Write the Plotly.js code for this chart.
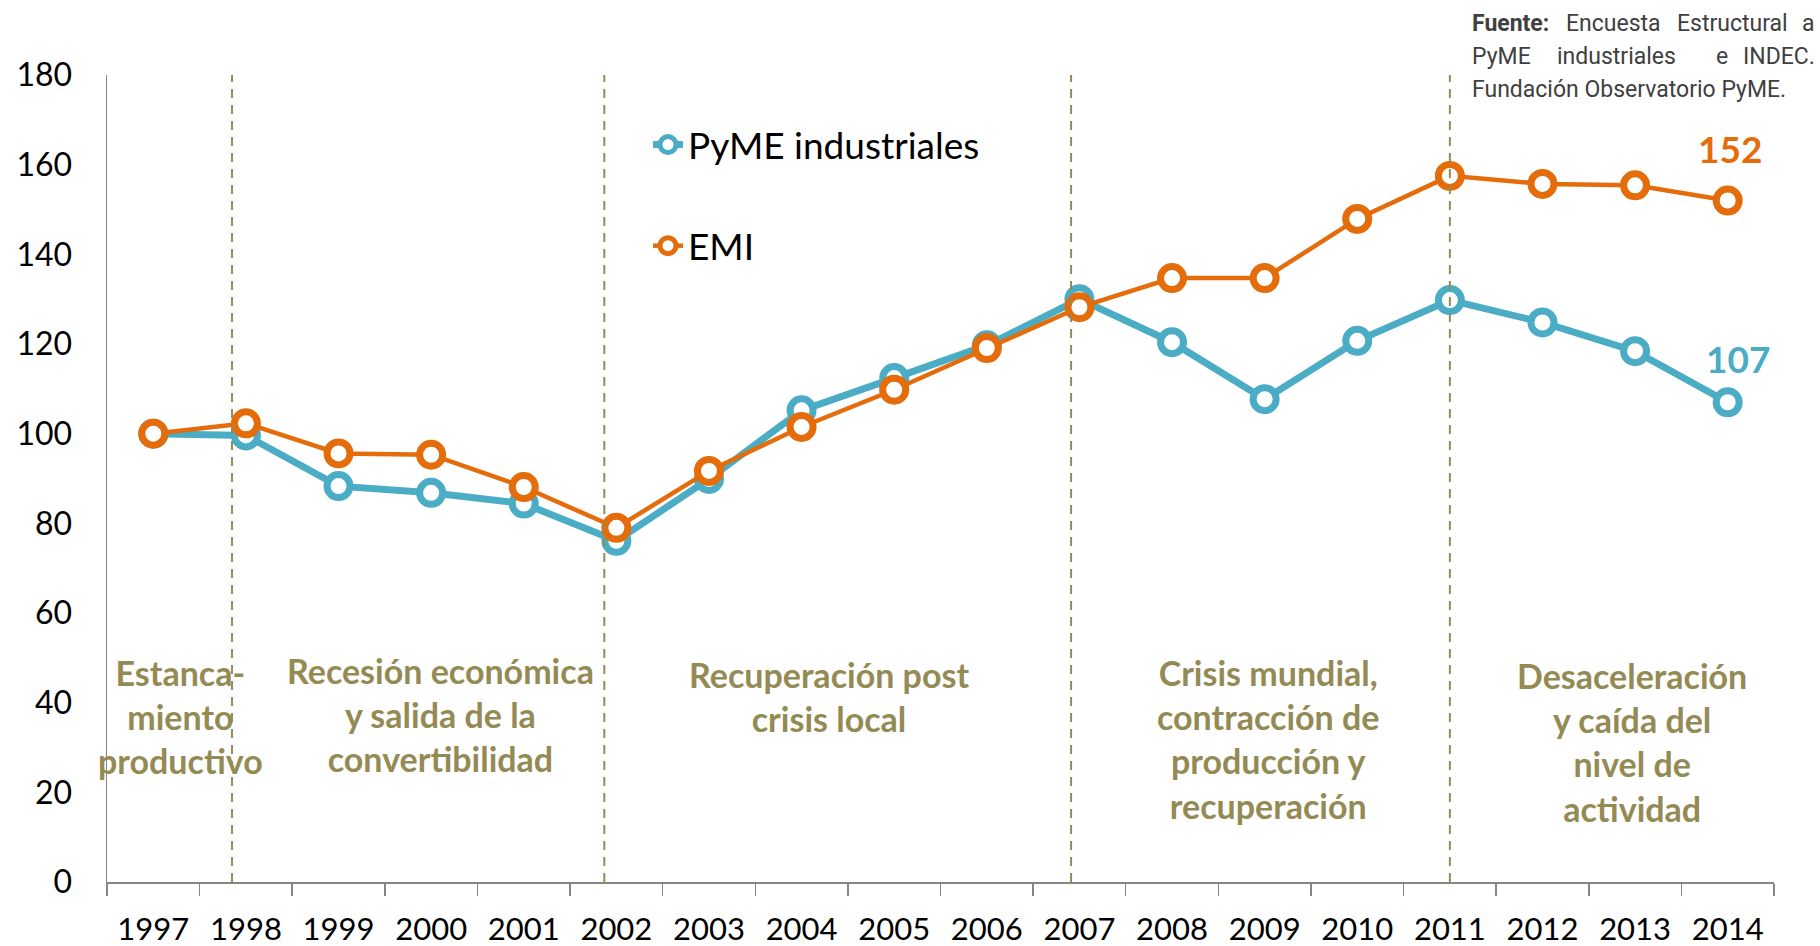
<!DOCTYPE html>
<html>
<head>
<meta charset="utf-8">
<script src="https://cdn.plot.ly/plotly-3.0.1.min.js"></script>
<style>
html,body{margin:0;padding:0;background:#fff;}
#chart{width:1820px;height:946px;}
</style>
</head>
<body>
<div id="chart"></div>
<script>
const years = ['1997','1998','1999','2000','2001','2002','2003','2004','2005','2006','2007','2008','2009','2010','2011','2012','2013','2014'];
const pyme = [100, 99.6, 88.3, 86.8, 84.4, 76.1, 89.9, 105.2, 112.4, 119.7, 130.0, 120.4, 107.7, 120.7, 129.8, 124.8, 118.4, 107.0];
const emi  = [100, 102.3, 95.6, 95.3, 88.1, 79.0, 91.7, 101.5, 109.8, 119.1, 128.2, 134.7, 134.7, 147.9, 157.5, 155.7, 155.4, 152.0];
const seriesNames = ['PyME industriales', 'EMI'];
const phaseLabels = [
  'Estanca-<br>miento<br>productivo',
  'Recesión económica<br>y salida de la<br>convertibilidad',
  'Recuperación post<br>crisis local',
  'Crisis mundial,<br>contracción de<br>producción y<br>recuperación',
  'Desaceleración<br>y caída del<br>nivel de<br>actividad'
];
const yTicks = [0,20,40,60,80,100,120,140,160,180];

const BLUE = '#4BACC6', ORANGE = '#E46C0A', OLIVE = '#948A54';
const FONT = 'Lato, Carlito, Calibri, "Open Sans", sans-serif';

const traces = [
  {x: years, y: pyme, name: seriesNames[0], type: 'scatter', mode: 'lines+markers',
   legendgroup: 'a',
   line: {color: BLUE, width: 7},
   marker: {symbol: 'circle', size: 23, color: '#ffffff', line: {color: BLUE, width: 7}}},
  {x: years, y: emi, name: seriesNames[1], type: 'scatter', mode: 'lines+markers',
   legendgroup: 'b',
   line: {color: ORANGE, width: 4.5},
   marker: {symbol: 'circle', size: 23, color: '#ffffff', line: {color: ORANGE, width: 7}}}
];

// phase boundaries (category index units) and label anchors
const dividers = [0.85, 4.87, 9.91, 14.0];
const phasePos = [[0.29, 37.0], [3.10, 37.3], [7.30, 41.3], [12.04, 31.8], [15.97, 31.3]];

const shapes = dividers.map(d => ({
  type: 'line', xref: 'x', yref: 'y', x0: d, x1: d, y0: 0, y1: 180,
  line: {color: OLIVE, width: 2, dash: '9px,7px'}, layer: 'above'
}));

const annotations = phaseLabels.map((t, i) => ({
  text: t, xref: 'x', yref: 'y', x: phasePos[i][0], y: phasePos[i][1],
  showarrow: false, xanchor: 'center', yanchor: 'middle', align: 'center',
  font: {family: FONT, size: 34, color: OLIVE, weight: 700}
}));

const last = years.length - 1;
annotations.push({text: String(Math.round(emi[last])), xref: 'x', yref: 'y', x: 17.02, y: 163.5,
  showarrow: false, xanchor: 'center', yanchor: 'middle',
  font: {family: FONT, size: 37, color: ORANGE, weight: 700}});
annotations.push({text: String(Math.round(pyme[last])), xref: 'x', yref: 'y', x: 17.11, y: 116.7,
  showarrow: false, xanchor: 'center', yanchor: 'middle',
  font: {family: FONT, size: 37, color: BLUE, weight: 700}});

// source note (justified by hand)
const SRC_FONT = {family: 'Roboto, "Liberation Sans", sans-serif', size: 23, color: '#404040'};
const srcWords = [
  ['<b>Fuente:</b>', 1470, 23, 'left'], ['Encuesta', 1613, 23, 'center'], ['Estructural', 1732, 23, 'center'], ['a', 1817, 23, 'right'],
  ['PyME', 1470, 57, 'left'], ['industriales', 1616, 57, 'center'], ['e', 1722, 57, 'center'], ['INDEC.', 1817, 57, 'right'],
  ['Fundación Observatorio PyME.', 1470, 90, 'left']
];
srcWords.forEach(w => annotations.push({
  text: w[0], xref: 'paper', yref: 'paper', x: 0, y: 0, showarrow: false,
  xanchor: w[3], yanchor: 'middle', font: SRC_FONT, _px: w[1], _py: w[2]
}));

const M = {l: 107, r: 46, t: 75, b: 64};
const W = 1820 - M.l - M.r, H = 946 - M.t - M.b;
annotations.forEach(a => {
  if (a._px !== undefined) {
    a.x = (a._px - M.l) / W;
    a.y = (946 - M.b - a._py) / H;
    delete a._px; delete a._py;
  }
});

const layout = {
  width: 1820, height: 946,
  margin: M,
  paper_bgcolor: '#ffffff', plot_bgcolor: '#ffffff',
  font: {family: FONT, color: '#000000'},
  showlegend: true,
  legend: {x: (648 - 107) / W, y: (882 - 114) / H, xanchor: 'left', yanchor: 'top',
           font: {family: FONT, size: 37, color: '#000'}, bgcolor: 'rgba(0,0,0,0)',
           tracegroupgap: 50, itemwidth: 30, traceorder: 'grouped'},
  xaxis: {type: 'category', range: [-0.5, 17.5], showgrid: false, zeroline: false,
          showline: true, linecolor: '#868686', linewidth: 1.5,
          ticks: 'outside', tickson: 'boundaries', ticklen: 12, tickcolor: '#868686', tickwidth: 1.5,
          tickfont: {family: FONT, size: 31, color: '#000'}, ticklabelstandoff: 19,
          fixedrange: true},
  yaxis: {range: [0, 180], tickvals: yTicks, showgrid: false, zeroline: false,
          showline: true, linecolor: '#868686', linewidth: 1.5, ticks: '',
          tickfont: {family: FONT, size: 32, color: '#000'}, ticklabelstandoff: 27,
          fixedrange: true},
  shapes: shapes,
  annotations: annotations
};

Plotly.newPlot('chart', traces, layout, {displayModeBar: false, staticPlot: true});
</script>
</body>
</html>
